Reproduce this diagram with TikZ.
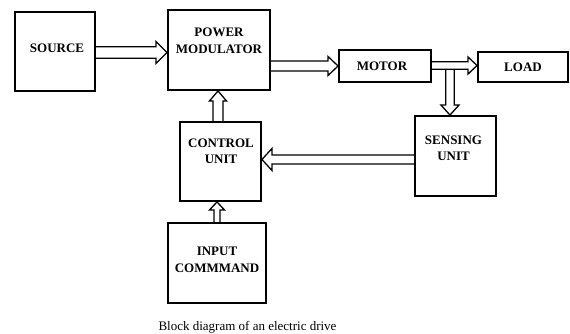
\documentclass[tikz,border=0pt]{standalone}
\usepackage{fontspec}
\setmainfont{Liberation Serif}
\usetikzlibrary{calc}
% #1 start coordinate, #2 end coordinate, #3 half shaft width, #4 head half width, #5 head length
\newcommand\blockarw[5]{%
  \coordinate (#1h) at ($(#2)!#5!(#1)$);
  \draw[arwline] ($(#1)!#3!90:(#2)$) -- ($(#1h)!#3!-90:(#1)$)
    -- ($(#1h)!#4!-90:(#1)$) -- (#2) -- ($(#1h)!#4!90:(#1)$)
    -- ($(#1h)!#3!90:(#1)$) -- ($(#1)!#3!-90:(#2)$);
}
\begin{document}
\begin{tikzpicture}[x=1pt,y=-1pt,
  blk/.style={draw, line width=1.9pt, inner sep=0pt},
  lbl/.style={align=center, font=\fontsize{13}{16.5}\selectfont\bfseries, inner sep=0pt},
  arwline/.style={draw, line width=1.3pt, line join=miter},
  captxt/.style={font=\fontsize{13}{15}\selectfont, inner sep=0pt}]
\useasboundingbox (0,0) rectangle (570,333);
\node[blk, minimum width=80pt, minimum height=79pt, label={[lbl, yshift=3.5pt, xshift=2pt]center:SOURCE}] (src) at (55,51.5) {};
\node[blk, minimum width=102pt, minimum height=80pt, label={[lbl, yshift=9pt]center:{POWER\\MODULATOR}}] (pm) at (219,50) {};
\node[blk, minimum width=92pt, minimum height=32pt, label={[lbl, xshift=-3pt]center:MOTOR}] (motor) at (385,66) {};
\node[blk, minimum width=90pt, minimum height=30pt, label={[lbl]center:LOAD}] (load) at (523,67) {};
\node[blk, minimum width=81pt, minimum height=80pt, label={[lbl, yshift=7.5pt, xshift=-2pt]center:{SENSING\\UNIT}}] (sense) at (455.5,156) {};
\node[blk, minimum width=81pt, minimum height=79pt, label={[lbl, yshift=10pt, xshift=0.5pt]center:{CONTROL\\UNIT}}] (ctrl) at (220.5,161.5) {};
\node[blk, minimum width=98pt, minimum height=80pt, label={[lbl, yshift=3pt]center:{INPUT\\COMMMAND}}] (input) at (217,263) {};
\node[captxt] (caption) at (247.5,327) {Block diagram of an electric drive};
% connector end points
\coordinate (a1s) at ([yshift=-1pt]src.east);
\coordinate (a1e) at (a1s -| pm.west);
\coordinate (a2s) at (pm.east |- motor.west);
\coordinate (a2e) at (motor.west);
\coordinate (a3s) at ([yshift=0.5pt]motor.east);
\coordinate (a3e) at (a3s -| load.west);
\coordinate (a4s) at ($(a3s)+(18,4)$);
\coordinate (a4e) at (a4s |- sense.north);
\coordinate (a5s) at ([yshift=-3.5pt]sense.west);
\coordinate (a5e) at (a5s -| ctrl.east);
\coordinate (a6s) at ([xshift=-2.5pt]ctrl.north);
\coordinate (a6e) at (a6s |- pm.south);
\coordinate (a7s) at (input.north);
\coordinate (a7e) at (a7s |- ctrl.south);
% connectors
\blockarw{a1s}{a1e}{5.8pt}{11pt}{11pt}
\blockarw{a2s}{a2e}{5pt}{9.5pt}{10pt}
\blockarw{a3s}{a3e}{3.8pt}{8.5pt}{9pt}
\blockarw{a4s}{a4e}{4.2pt}{9pt}{10pt}
\blockarw{a5s}{a5e}{4.5pt}{11pt}{10pt}
\blockarw{a6s}{a6e}{5pt}{8.5pt}{10pt}
\blockarw{a7s}{a7e}{3pt}{7.5pt}{8pt}
\end{tikzpicture}
\end{document}
